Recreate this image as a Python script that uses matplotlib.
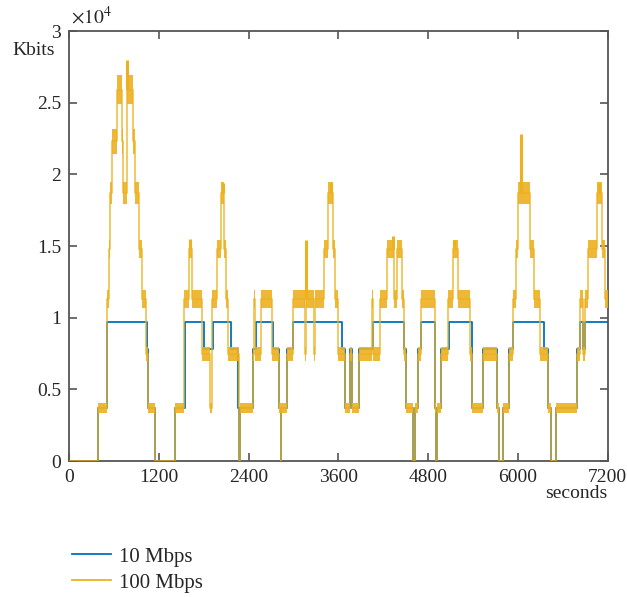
import numpy as np
import matplotlib
matplotlib.use("Agg")
import matplotlib.pyplot as plt

# ---- data -----------------------------------------------------------------
# 100 Mbps session: bitrate (Kbits) switching times (s) and levels
t100 = [0, 377, 497, 533, 545, 564, 640, 705, 715, 765, 854, 877, 930, 966,
        1024, 1046, 1144, 1412, 1537, 1599, 1644, 1775, 1880, 1905, 1970,
        2023, 2070, 2100, 2125, 2272, 2284, 2455, 2465, 2478, 2563, 2706,
        2804, 2826, 2834, 2907, 2987, 3157, 3165, 3273, 3281, 3406, 3464,
        3531, 3553, 3598, 3687, 3754, 3776, 3874, 4048, 4056, 4155, 4245,
        4347, 4378, 4446, 4477, 4499, 4593, 4624, 4668, 4704, 4891, 4905,
        4915, 4972, 5070, 5136, 5195, 5360, 5382, 5539, 5726, 5744, 5802,
        5882, 5940, 5971, 5998, 6163, 6216, 6297, 6408, 6444, 6511, 6797,
        6832, 6868, 6899, 6944, 7055, 7122, 7166]
v100 = [0, 3700, 11300, 14800, 18700, 22300, 25900, 22300, 18700, 25900,
        22300, 18700, 14800, 11300, 7450, 3700, 0, 3700, 11300, 14800,
        11300, 7450, 3700, 11300, 14800, 18700, 14800, 11300, 7450, 0,
        3700, 7450, 11300, 7450, 11300, 7450, 3700, 0, 3700, 7450, 11300,
        7450, 11300, 7450, 11300, 14800, 18700, 14800, 11300, 7450, 3700,
        7450, 3700, 7450, 11300, 7450, 11300, 14800, 11300, 14800, 11300,
        7450, 3700, 0, 3700, 7450, 11300, 3700, 0, 3700, 7450, 11300,
        14800, 11300, 7450, 3700, 7450, 3700, 0, 3700, 7450, 11300, 14800,
        18700, 14800, 11300, 7450, 3700, 0, 3700, 7450, 11300, 7450, 11300,
        14800, 18700, 14800, 11300]
# short throughput bursts of the 100 Mbps session (time, peak Kbits)
burst_t = [770, 1610, 2060, 3170, 3500, 4330, 5150, 6040, 7085]
burst_v = [28000, 15500, 19400, 15400, 19400, 15700, 15400, 22800, 19300]
# fluctuation half-range around each bitrate level (Kbits)
level_kbits = [0, 3700, 7450, 11300, 14800, 18700, 22300, 25900]
level_jitter = [0, 380, 470, 600, 650, 750, 850, 1000]

# 10 Mbps session
t10 = [0, 377, 497, 1033, 1050, 1144, 1412, 1546, 1804, 1925, 2157, 2259,
       2272, 2284, 2455, 2496, 2728, 2804, 2826, 2834, 2907, 2987, 3642,
       3687, 3754, 3776, 3874, 4066, 4477, 4499, 4593, 4624, 4668, 4700,
       4891, 4905, 4915, 4972, 5079, 5391, 5539, 5726, 5744, 5802, 5882,
       5940, 6354, 6408, 6444, 6511, 6797, 6832, 6868, 6899]
v10 = [0, 3700, 9700, 7800, 3700, 0, 3700, 9700, 7800, 9700, 7800, 3700,
       0, 3700, 7800, 9700, 7800, 3700, 0, 3700, 7800, 9700, 7800, 3700,
       7800, 3700, 7800, 9700, 7800, 3700, 0, 3700, 7800, 9700, 3700, 0,
       3700, 7800, 9700, 3700, 7800, 3700, 0, 3700, 7800, 9700, 7800, 3700,
       0, 3700, 7800, 9700, 7800, 9700]

t_end = 7200
xticks = [0, 1200, 2400, 3600, 4800, 6000, 7200]
yticks = [0, 5000, 10000, 15000, 20000, 25000, 30000]
ytick_labels = ["0", "0.5", "1", "1.5", "2", "2.5", "3"]

# ---- style ----------------------------------------------------------------
plt.rcParams["font.family"] = ["Liberation Serif", "DejaVu Serif"]
plt.rcParams["mathtext.fontset"] = "stix"
TXT = "#262626"
BLUE = "#0072BD"
ORANGE = "#EDB120"
SPINE = "#555555"

fig = plt.figure(figsize=(6.27, 5.97), dpi=100)
ax = fig.add_axes([0.1108, 0.2278, 0.8581, 0.7202])


def step_xy(ts, vs):
    x = np.append(np.asarray(ts, float), t_end)
    y = np.append(np.asarray(vs, float), vs[-1])
    return x, y


# 10 Mbps
xb, yb = step_xy(t10, v10)
ax.step(xb, yb, where="post", color=BLUE, lw=1.3, zorder=2)

# 100 Mbps: level line plus its fluctuation band
xo, yo = step_xy(t100, v100)
jit_map = dict(zip(level_kbits, level_jitter))
half = np.array([jit_map[v] for v in yo])
ax.fill_between(xo, yo - half, yo + half, step="post", color=ORANGE,
                alpha=0.9, lw=0, zorder=3)
ax.step(xo, yo, where="post", color=ORANGE, lw=1.3, alpha=0.75, zorder=3)

# bursts rise from the level in force at that time
idx = np.searchsorted(t100, burst_t, side="right") - 1
base = np.asarray(v100)[idx]
ax.vlines(burst_t, base, burst_v, color=ORANGE, lw=2.2, zorder=3)

ax.set_xlim(0, t_end)
ax.set_ylim(0, 30000)
ax.set_xticks(xticks)
ax.set_xticklabels([str(v) for v in xticks])
ax.set_yticks(yticks)
ax.set_yticklabels(ytick_labels)

for s in ax.spines.values():
    s.set_color(SPINE)
    s.set_linewidth(1.3)
ax.tick_params(direction="in", length=6, width=1.2, color=SPINE,
               labelsize=14, labelcolor=TXT, top=True, right=True,
               pad=6)

fig.text(0.113, 0.973, r"$\times 10^{4}$", fontsize=14, color=TXT,
         ha="left", va="center")
fig.text(0.019, 0.916, "Kbits", fontsize=14, color=TXT, ha="left",
         va="center")
fig.text(0.969, 0.174, "seconds", fontsize=14, color=TXT, ha="right",
         va="center")

h1, = ax.plot([], [], color=BLUE, lw=1.3, label="10 Mbps")
h2, = ax.plot([], [], color=ORANGE, lw=1.3, label="100 Mbps")
fig.legend(handles=[h1, h2], loc="upper left",
           bbox_to_anchor=(0.085, 0.115), frameon=False, fontsize=15,
           handlelength=1.85, handletextpad=0.4, labelspacing=0.3,
           labelcolor=TXT)

fig.savefig("out.png", dpi=100)
